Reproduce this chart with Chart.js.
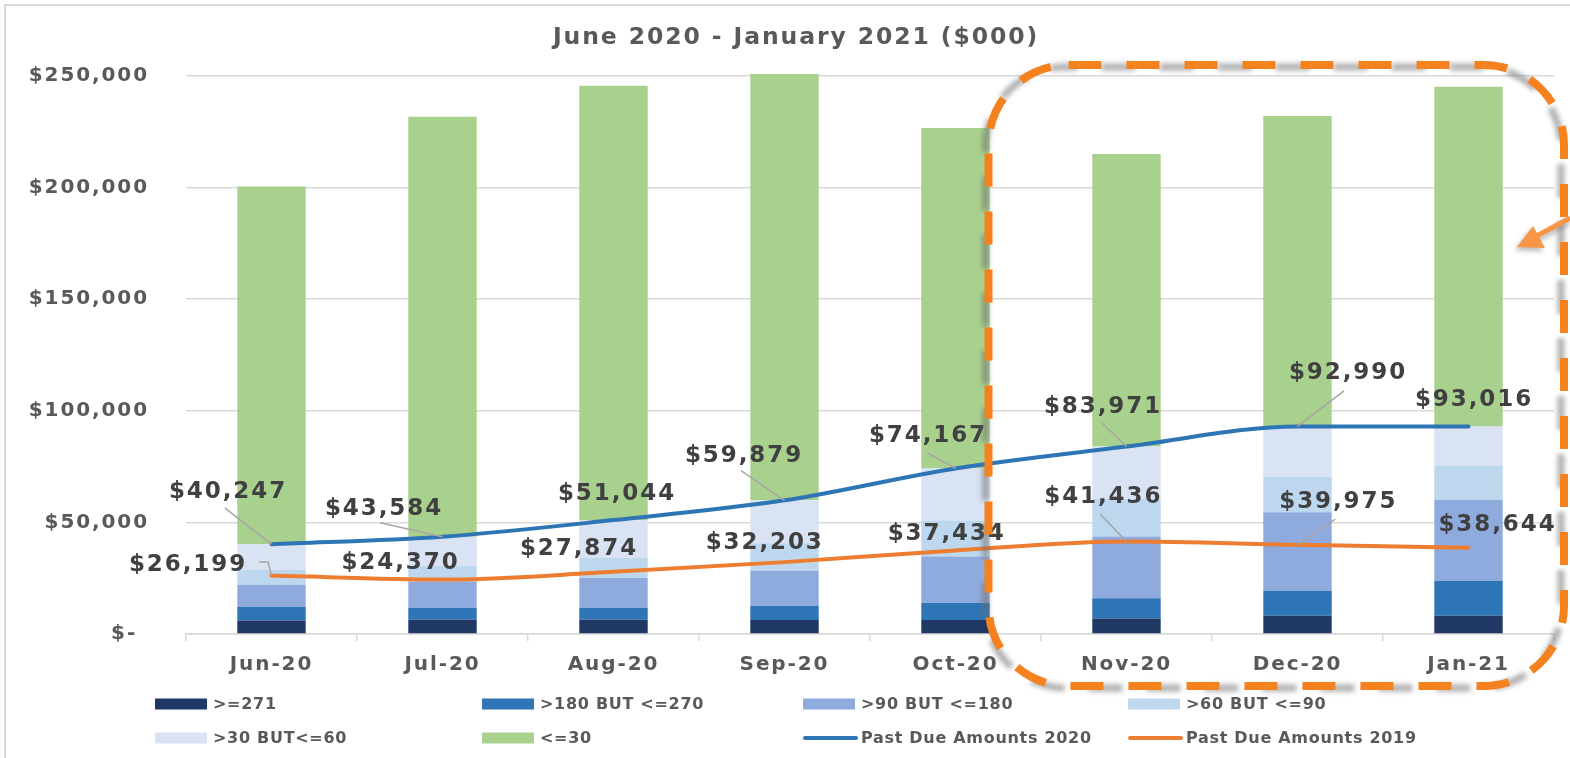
<!DOCTYPE html>
<html><head><meta charset="utf-8">
<script src="https://cdn.jsdelivr.net/npm/chart.js@4.4.0/dist/chart.umd.min.js"></script>
<style>html,body{margin:0;padding:0;background:#fff;overflow:hidden}#wrap{width:1570px;height:758px;position:relative}</style>
</head><body><div id="wrap"><canvas id="c" width="1570" height="758"></canvas></div>
<script>
// ---- data (values in $000) ----
const categories = ['Jun-20','Jul-20','Aug-20','Sep-20','Oct-20','Nov-20','Dec-20','Jan-21'];
const over271 = [6000, 6400, 6400, 6300, 6300, 7000, 8200, 8200];
const d181to270 = [6100, 5400, 5400, 6300, 7700, 9000, 11200, 15700];
const d91to180 = [9900, 11700, 13300, 15700, 20700, 27700, 35100, 36200];
const d61to90 = [6700, 7000, 9000, 12400, 16200, 16900, 16000, 15400];
const d31to60 = [11500, 13100, 16900, 19200, 23300, 23400, 22500, 17500];
const upTo30 = [160300, 188100, 194600, 191000, 152500, 131100, 139100, 152200];
const pastDue2020 = [40247, 43584, 51044, 59879, 74167, 83971, 92990, 93016];
const pastDue2019 = [26199, 24370, 27874, 32203, 37434, 41436, 39975, 38644];
const yTickLabels = ['$-\u2002', '$50,000', '$100,000', '$150,000', '$200,000', '$250,000'];
const seriesNames = ['>=271', '>180 BUT <=270', '>90 BUT <=180', '>60 BUT <=90', '>30 BUT<=60', '<=30', 'Past Due Amounts 2020', 'Past Due Amounts 2019'];
const titleText = 'June 2020 - January 2021 ($000)';

// ---- styles ----
const barColors = ['#203864', '#2e75b6', '#8faadc', '#bdd7ee', '#dae3f3', '#a9d18e'];
const lineColors = ['#2e75b6', '#ed7d31'];
const FONT = "'DejaVu Sans', Verdana, sans-serif";
const GRAY = '#595959';
// label placement relative to each line point (style only)
const labelStyle2020 = [
  {dx:-43.5,dy:-52,lead:[-3,16]}, {dx:-58.5,dy:-28,lead:[-4,14]}, {dx:3.5,dy:-26},
  {dx:-40.5,dy:-44.7,lead:[-3,15]}, {dx:-27.5,dy:-32.7,lead:[-1,17]}, {dx:-23.5,dy:-39.6,lead:[-1,16]},
  {dx:50.5,dy:-53.6,lead:[-4,18]}, {dx:5.5,dy:-26}];
const labelStyle2019 = [
  {dx:-83.5,dy:-10.5,elbow:[71,-3,80]}, {dx:-42,dy:-17}, {dx:-34.5,dy:-22.8},
  {dx:-19.8,dy:-18.8}, {dx:-8.8,dy:-16.2}, {dx:-23.2,dy:-44.3,lead:[-3,17]},
  {dx:40.8,dy:-42.6,lead:[-3,17]}, {dx:29,dy:-23.2}];

const barSeries = [over271, d181to270, d91to180, d61to90, d31to60, upTo30];
const datasets = barSeries.map((arr, i) => ({
  type: 'bar', label: seriesNames[i], data: arr, backgroundColor: barColors[i],
  borderWidth: 0, order: 1, categoryPercentage: 1, barPercentage: 0.40, clip: false
}));
[pastDue2020, pastDue2019].forEach((arr, j) => datasets.push({
  type: 'line', label: seriesNames[6 + j], data: arr, borderColor: lineColors[j],
  backgroundColor: lineColors[j], borderWidth: 4, pointRadius: 0, tension: 0.3,
  cubicInterpolationMode: 'monotone',
  borderCapStyle: 'round', order: 0, stack: 'line' + j, fill: false
}));

const fmt = v => '$' + v.toLocaleString('en-US');

const spacingPlugin = {
  id: 'spacing',
  beforeUpdate(c){ c.ctx.letterSpacing = '1.9px'; },
  beforeLayout(c){ c.ctx.letterSpacing = '1.9px'; },
  beforeDraw(c){ c.ctx.letterSpacing = '1.9px'; }
};

const labelPlugin = {
  id: 'pdLabels',
  afterDatasetsDraw(chart){
    const ctx = chart.ctx;
    [[6, labelStyle2020], [7, labelStyle2019]].forEach(([di, styles]) => {
      const meta = chart.getDatasetMeta(di);
      const data = chart.data.datasets[di].data;
      meta.data.forEach((el, i) => {
        const s = styles[i];
        const cx = el.x + s.dx, cy = el.y + s.dy;
        ctx.save();
        ctx.strokeStyle = '#a6a6a6'; ctx.lineWidth = 1.5;
        if (s.lead) {
          ctx.beginPath(); ctx.moveTo(cx + s.lead[0], cy + s.lead[1]); ctx.lineTo(el.x, el.y); ctx.stroke();
        } else if (s.elbow) {
          ctx.beginPath(); ctx.moveTo(cx + s.elbow[0], cy + s.elbow[1]);
          ctx.lineTo(cx + s.elbow[2], cy + s.elbow[1]); ctx.lineTo(el.x, el.y); ctx.stroke();
        }
        ctx.letterSpacing = '1.9px';
        ctx.font = 'bold 23px ' + FONT;
        ctx.fillStyle = '#404040';
        ctx.textAlign = 'center'; ctx.textBaseline = 'middle';
        ctx.fillText(fmt(data[i]), cx, cy);
        ctx.restore();
      });
    });
  }
};

function rrPath(ctx, x, y, w, h, r){
  ctx.beginPath();
  ctx.moveTo(x + r, y);
  ctx.lineTo(x + w - r, y); ctx.arcTo(x + w, y, x + w, y + r, r);
  ctx.lineTo(x + w, y + h - r); ctx.arcTo(x + w, y + h, x + w - r, y + h, r);
  ctx.lineTo(x + r, y + h); ctx.arcTo(x, y + h, x, y + h - r, r);
  ctx.lineTo(x, y + r); ctx.arcTo(x, y, x + r, y, r);
  ctx.closePath();
}

const decorPlugin = {
  id: 'decor',
  beforeDraw(chart){
    const ctx = chart.ctx;
    // title
    ctx.save();
    ctx.letterSpacing = '1.9px';
    ctx.font = 'bold 23.5px ' + FONT;
    ctx.fillStyle = GRAY; ctx.textAlign = 'center'; ctx.textBaseline = 'middle';
    ctx.fillText(titleText, 796, 38);
    ctx.restore();
  },
  afterDraw(chart){
    const ctx = chart.ctx, ca = chart.chartArea;
    const xs = chart.scales.x;
    // frame
    ctx.save();
    ctx.strokeStyle = '#d9d9d9'; ctx.lineWidth = 2;
    ctx.beginPath(); ctx.moveTo(5, chart.height); ctx.lineTo(5, 5); ctx.lineTo(chart.width, 5); ctx.stroke();
    ctx.restore();

    // legend
    ctx.save();
    ctx.letterSpacing = '0.7px';
    ctx.font = 'bold 16px ' + FONT;
    ctx.textBaseline = 'middle'; ctx.textAlign = 'left';
    const colX = [155, 482, 803, 1128], rowY = [704, 738];
    chart.data.datasets.forEach((ds, i) => {
      const x = colX[i % 4], y = rowY[Math.floor(i / 4)];
      if (ds.type === 'bar') {
        ctx.fillStyle = ds.backgroundColor; ctx.fillRect(x, y - 5.5, 52, 11);
        ctx.fillStyle = GRAY; ctx.fillText(ds.label, x + 58, y + 1);
      } else {
        ctx.strokeStyle = ds.borderColor; ctx.lineWidth = 4; ctx.lineCap = 'round';
        ctx.beginPath(); ctx.moveTo(x + 2, y); ctx.lineTo(x + 53, y); ctx.stroke();
        ctx.fillStyle = GRAY; ctx.fillText(ds.label, x + 58, y + 1);
      }
    });
    ctx.restore();

    // highlight box
    const left = xs.getPixelForValue(4) + 33, right = ca.right + 10;
    const top = ca.top - 11, bottom = ca.bottom + 52;
    ctx.save();
    ctx.filter = 'blur(2.5px)';
    ctx.strokeStyle = 'rgba(110,110,110,0.55)'; ctx.lineWidth = 7;
    ctx.setLineDash([34, 24]); ctx.lineDashOffset = 22;
    rrPath(ctx, left - 3, top + 2, right - left, bottom - top, 80); ctx.stroke();
    ctx.restore();
    ctx.save();
    ctx.strokeStyle = '#f5821f'; ctx.lineWidth = 8;
    ctx.setLineDash([33, 25]);
    rrPath(ctx, left, top, right - left, bottom - top, 80); ctx.stroke();
    ctx.restore();

    // arrow
    const tipX = ca.right - 37, tipY = ca.top + 171;
    ctx.save();
    ctx.filter = 'blur(2.5px)';
    ctx.fillStyle = 'rgba(110,110,110,0.5)'; ctx.strokeStyle = 'rgba(110,110,110,0.5)'; ctx.lineWidth = 5;
    ctx.beginPath(); ctx.moveTo(chart.width, tipY - 26); ctx.lineTo(tipX + 20, tipY - 7); ctx.stroke();
    ctx.beginPath(); ctx.moveTo(tipX - 2, tipY + 3); ctx.lineTo(tipX + 14, tipY - 18); ctx.lineTo(tipX + 26, tipY + 4); ctx.closePath(); ctx.fill();
    ctx.restore();
    ctx.save();
    ctx.fillStyle = '#f79646'; ctx.strokeStyle = '#f79646'; ctx.lineWidth = 5;
    ctx.beginPath(); ctx.moveTo(chart.width, tipY - 29); ctx.lineTo(tipX + 18, tipY - 10); ctx.stroke();
    ctx.beginPath(); ctx.moveTo(tipX, tipY); ctx.lineTo(tipX + 16, tipY - 21); ctx.lineTo(tipX + 28, tipY + 1); ctx.closePath(); ctx.fill();
    ctx.restore();
  }
};

new Chart(document.getElementById('c'), {
  data: { labels: categories, datasets },
  plugins: [spacingPlugin, labelPlugin, decorPlugin],
  options: {
    responsive: false, animation: false, devicePixelRatio: 1, events: [],
    layout: { padding: { left: 0, right: 16, top: 76, bottom: 0 } },
    plugins: {
      legend: { display: false }, tooltip: { enabled: false }, title: { display: false }
    },
    scales: {
      x: {
        stacked: true, offset: true,
        grid: { display: true, drawOnChartArea: false, drawTicks: true, tickLength: 7, color: '#d9d9d9', lineWidth: 1.5, offset: true },
        border: { display: true, color: '#d9d9d9', width: 1.5 },
        ticks: { color: GRAY, font: { family: FONT, size: 20, weight: 'bold' }, padding: 12, maxRotation: 0, autoSkip: false },
        afterFit(s){ s.height = 124; }
      },
      y: {
        stacked: true, min: 0, max: 250000,
        ticks: { stepSize: 50000, color: GRAY, font: { family: FONT, size: 20, weight: 'bold' }, padding: 37,
          callback: (v, i) => yTickLabels[i] },
        grid: { color: '#d9d9d9', lineWidth: 1.5, drawTicks: false },
        border: { display: false },
        afterFit(s){ s.width = 186; }
      }
    }
  }
});
</script></body></html>
